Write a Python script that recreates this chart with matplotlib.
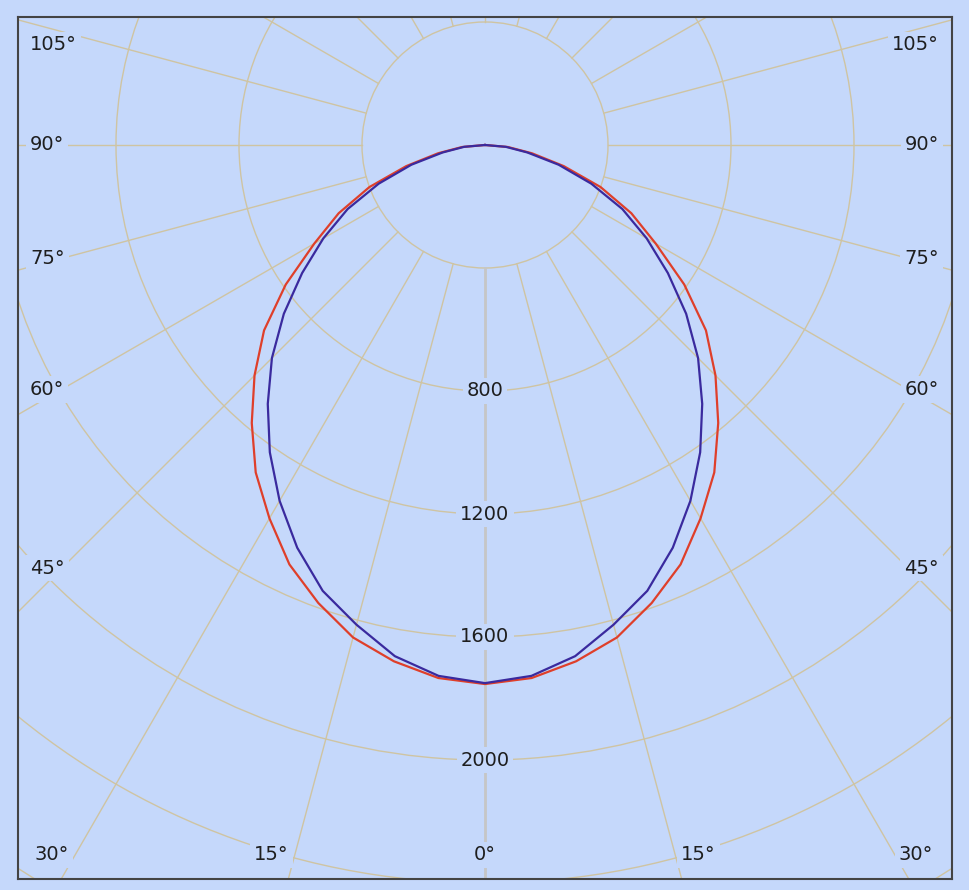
import numpy as np
import matplotlib.pyplot as plt
from matplotlib.patches import Circle

# luminous intensity (cd), 0 deg = straight down
angles = np.arange(0, 95, 5)
red_cd = [1753, 1740, 1705, 1658, 1585, 1505, 1402, 1300, 1180, 1060,
          938, 791, 641, 525, 400, 265, 155, 75, 0]
blue_cd = [1750, 1733, 1688, 1615, 1543, 1445, 1336, 1220, 1099, 980,
           854, 726, 607, 493, 368, 248, 140, 68, 0]

rings = [400, 800, 1200, 1600, 2000, 2400, 2800, 3200]
ring_labels = [800, 1200, 1600, 2000]
spokes = np.arange(0, 360, 15)
side_labels = [105, 90, 75, 60, 45]
bottom_labels = [-30, -15, 0, 15, 30]

bg = '#c5d8fb'
grid_c = '#cfc4a2'
txt_c = '#1e1e1e'

# geometry of the frame (pixels) and the scale (px per cd)
W, H = 969, 890
left, right, top, bottom = 18, 952, 17, 879
cx, cy = 485, 145
S = 0.3075

fig = plt.figure(figsize=(W / 100, H / 100), dpi=100, facecolor=bg)
ax = fig.add_axes([left / W, (H - bottom) / H, (right - left) / W, (bottom - top) / H])
ax.set_facecolor(bg)
ax.set_xlim((left - cx) / S, (right - cx) / S)
ax.set_ylim(-(bottom - cy) / S, (cy - top) / S)
ax.set_xticks([])
ax.set_yticks([])
for sp in ax.spines.values():
    sp.set_color('#444444')
    sp.set_linewidth(1.5)
    sp.set_zorder(10)

# grid: circles and spokes
for r in rings:
    ax.add_patch(Circle((0, 0), r, fill=False, ec=grid_c, lw=1.0, zorder=1))
for a in spokes:
    t = np.radians(a)
    rr = np.array([rings[0], 5000])
    if a == 0:
        ax.plot(rr * np.sin(t), -rr * np.cos(t), color='#c6c6c6', lw=2.0, zorder=1.5)
    else:
        ax.plot(rr * np.sin(t), -rr * np.cos(t), color=grid_c, lw=1.0, zorder=1)

box = dict(boxstyle='square,pad=0.2', fc=bg, ec='none')
font = dict(fontsize=14, color=txt_c, family='DejaVu Sans', zorder=5)

for v in ring_labels:
    ax.text(0, -v, str(v), ha='center', va='center', bbox=box, **font)

xl, xr = ax.get_xlim()
for a in side_labels:
    y = -(423 / S) / np.tan(np.radians(a))
    y = min(y, (cy - 45) / S)
    ax.text(xl + 12 / S, y, f'{a}°', ha='left', va='center', bbox=box, **font)
    ax.text(xr - 13 / S, y, f'{a}°', ha='right', va='center', bbox=box, **font)

yb = -(855 - cy) / S
for a in bottom_labels:
    cross = (bottom - cy) / S * np.tan(np.radians(abs(a)))
    if a < 0:
        x = max(-cross - 17 / S, xl + 34 / S)
    elif a > 0:
        x = min(cross + 17 / S, xr - 36 / S)
    else:
        x = 0
    ax.text(x, yb, f'{abs(a)}°', ha='center', va='center', bbox=box, **font)

# curves, mirrored to both sides of nadir
th = np.radians(np.concatenate([-angles[::-1], angles[1:]]))
for vals, col in [(red_cd, '#df3f2a'), (blue_cd, '#3a2a9e')]:
    v = np.array(vals, dtype=float)
    r = np.concatenate([v[::-1], v[1:]])
    ax.plot(r * np.sin(th), -r * np.cos(th), color=col, lw=1.6, zorder=4)

fig.savefig('out.png', dpi=100, facecolor=bg)
